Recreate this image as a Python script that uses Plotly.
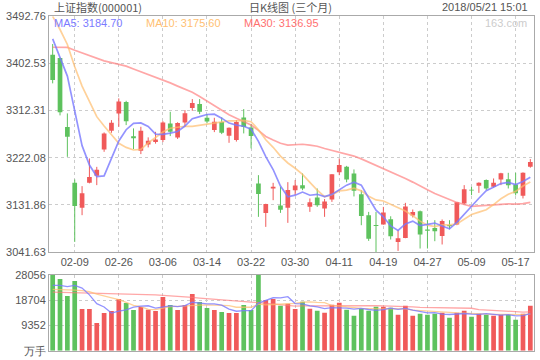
import plotly.graph_objects as go
import numpy as np

# ---------------- data ----------------
dates = ["02-06","02-07","02-08","02-09","02-12","02-13","02-14","02-22","02-23","02-26","02-27","02-28",
         "03-01","03-02","03-05","03-06","03-07","03-08","03-09","03-12","03-13","03-14","03-15","03-16",
         "03-19","03-20","03-21","03-22","03-23","03-26","03-27","03-28","03-29","03-30",
         "04-02","04-03","04-04","04-09","04-10","04-11","04-12","04-13","04-16","04-17","04-18","04-19",
         "04-20","04-23","04-24","04-25","04-26","04-27",
         "05-02","05-03","05-04","05-07","05-08","05-09","05-10","05-11","05-14","05-15","05-16","05-17",
         "05-18","05-21"]

open_ = [3419.4,3412.9,3280.7,3174.0,3126.1,3174.0,3187.4,3238.0,3273.6,3306.9,3328.6,3263.4,
         3235.3,3247.5,3252.0,3256.0,3287.8,3261.0,3289.7,3317.1,3324.8,3298.5,3274.9,3290.3,
         3264.0,3255.8,3299.3,3280.1,3172.9,3116.5,3163.0,3130.7,3126.1,3160.0,
         3169.6,3128.0,3146.0,3124.9,3142.2,3194.5,3204.6,3192.0,3152.4,3112.1,3093.5,3094.3,
         3104.4,3061.0,3068.6,3111.5,3119.8,3084.5,
         3087.8,3072.4,3093.5,3094.3,3134.5,3161.0,3168.3,3179.2,3166.3,3180.5,3181.1,3170.9,
         3149.1,3204.6]
high = [3439.7,3413.5,3306.9,3180.5,3167.7,3220.7,3204.6,3270.5,3294.1,3335.7,3331.0,3278.2,
        3281.3,3261.0,3271.7,3292.0,3310.0,3290.0,3313.3,3334.3,3334.3,3305.6,3298.5,3299.3,
        3280.0,3294.1,3315.2,3286.4,3188.7,3134.0,3174.0,3166.3,3175.3,3179.2,
        3192.0,3144.1,3163.2,3143.0,3190.6,3220.7,3206.5,3199.7,3160.0,3118.4,3118.4,3128.0,
        3110.0,3083.4,3135.7,3123.0,3121.0,3102.5,
        3102.5,3103.9,3102.5,3137.0,3169.6,3166.3,3175.0,3180.5,3182.4,3193.2,3193.2,3193.2,
        3194.0,3219.4]
low = [3364.4,3303.1,3223.8,3060.9,3112.1,3173.0,3169.6,3233.4,3269.8,3281.3,3284.5,3238.6,
       3229.0,3241.8,3249.0,3252.0,3263.5,3258.0,3281.3,3311.9,3305.6,3288.0,3271.1,3267.3,
       3250.6,3253.0,3268.6,3239.9,3108.9,3089.7,3140.8,3116.5,3097.4,3150.4,
       3160.0,3118.4,3128.0,3108.9,3137.6,3188.7,3175.0,3148.0,3092.9,3062.9,3041.63,3094.0,
       3065.5,3043.7,3068.0,3107.7,3048.3,3048.3,
       3062.3,3056.0,3085.0,3093.0,3133.0,3150.4,3154.8,3160.0,3165.0,3169.6,3163.2,3150.0,
       3144.1,3203.0]
close = [3370.65,3309.26,3262.05,3129.85,3154.13,3184.96,3199.16,3268.56,3289.02,3329.57,3292.07,3259.41,
         3273.75,3254.53,3256.93,3289.64,3271.67,3288.41,3307.17,3326.70,3310.24,3291.38,3291.11,3269.88,
         3279.25,3290.64,3280.95,3263.48,3152.76,3133.72,3166.65,3122.29,3160.53,3168.90,
         3163.18,3136.63,3131.11,3138.29,3190.32,3208.08,3180.16,3159.05,3110.65,3066.80,3091.40,3117.38,
         3071.54,3068.01,3128.93,3117.97,3075.03,3082.23,
         3081.18,3100.86,3091.03,3136.64,3161.50,3159.15,3174.41,3163.26,3174.03,3192.12,3169.57,3154.28,
         3193.30,3213.84]
# closes of the 29 sessions before the window (for the moving averages)
hist_close = [3306.12,3275.78,3296.38,3307.17,3348.33,3369.11,3385.71,3391.75,3409.48,3413.90,
              3421.83,3425.34,3428.94,3410.49,3436.59,3444.67,3474.75,3487.86,3501.36,3546.50,
              3559.47,3548.31,3558.13,3523.00,3488.01,3480.83,3446.98,3462.08,3487.50]

volume = [27950,26456,20180,25717,15381,15381,10213,13905,14643,19073,17596,15012,
          16120,15135,14643,19811,16858,15012,16858,20919,17965,15750,15012,14274,
          13905,13905,16858,15012,28056,18704,19073,16550,17290,15440,
          18088,15504,14766,14028,16981,17719,15135,12920,15504,14766,16243,16243,
          15873,13289,16612,12920,13659,13289,
          13659,14028,12182,14028,14766,12551,13659,13289,12920,13289,13289,11444,
          13659,16612]
# volume moving-average values at the start of the window
vol_ma5_head = [24118,24118,23626,24118]
vol_ma10_head = [22641,22641,22518,22395,22149,21780,20919,20180,19442]
vol_ma30_head = [21657,21595,21534,21472,21411,21349,21288,21165,21042,20980,20919,20857,
                 20795,20734,20611,20426,20303,20180,19934,19688,19442,19196,18950,18704,
                 18458,18211,18027,17904,17780]

price_ticks = [3041.63,3131.86,3222.08,3312.31,3402.53,3492.76]
vol_ticks = [0,9352,18704,28056]
vol_tick_text = ["万手","9352","18704","28056"]
x_ticks = ["02-09","02-26","03-06","03-14","03-22","03-30","04-11","04-19","04-27","05-09","05-17"]

ma_last = {"MA5": 3184.70, "MA10": 3175.60, "MA30": 3136.95}

# ---------------- derived ----------------
n = len(dates)
allc = hist_close + close
H = len(hist_close)
def price_ma(k):
    return [float(np.mean(allc[H + i - k + 1:H + i + 1])) for i in range(n)]
ma5, ma10, ma30 = price_ma(5), price_ma(10), price_ma(30)

def vol_ma(k, head):
    out = list(head)
    for i in range(len(head), n):
        out.append(float(np.mean(volume[i - k + 1:i + 1])))
    return out
vma5 = vol_ma(5, vol_ma5_head)
vma10 = vol_ma(10, vol_ma10_head)
vma30 = vol_ma(30, vol_ma30_head)

RED = "#F05A5A"
GREEN = "#5EC25E"
up = [c >= o for o, c in zip(open_, close)]
cols = [RED if u else GREEN for u in up]

C_MA5 = "rgba(120,120,255,0.8)"
C_MA10 = "rgba(255,190,110,0.7)"
C_MA30 = "rgba(255,120,120,0.65)"

fig = go.Figure()

# wicks
for colr, flag in ((RED, True), (GREEN, False)):
    wx, wy = [], []
    for i in range(n):
        if up[i] == flag:
            wx += [dates[i], dates[i], None]
            wy += [low[i], high[i], None]
    fig.add_trace(go.Scatter(x=wx, y=wy, mode="lines", line=dict(color=colr, width=1),
                             hoverinfo="skip", showlegend=False, xaxis="x", yaxis="y"))
# bodies
body = [max(abs(c - o), 1.6) for o, c in zip(open_, close)]
base = [min(o, c) for o, c in zip(open_, close)]
fig.add_trace(go.Bar(x=dates, y=body, base=base, width=0.64, marker=dict(color=cols, line=dict(width=0)),
                     showlegend=False, xaxis="x", yaxis="y"))
# price MAs
for vals, c in ((ma30, C_MA30), (ma10, C_MA10), (ma5, C_MA5)):
    fig.add_trace(go.Scatter(x=dates, y=vals, mode="lines", line=dict(color=c, width=1.7),
                             showlegend=False, xaxis="x", yaxis="y", cliponaxis=True))

# volume
fig.add_trace(go.Bar(x=dates, y=volume, width=0.64, marker=dict(color=cols, line=dict(width=0)),
                     showlegend=False, xaxis="x2", yaxis="y2"))
for vals, c in ((vma30, C_MA30), (vma10, C_MA10), (vma5, C_MA5)):
    fig.add_trace(go.Scatter(x=dates, y=vals, mode="lines", line=dict(color=c, width=1.3),
                             showlegend=False, xaxis="x2", yaxis="y2"))

W, Hh = 540, 360
L, R = 49, 6
def px(x):
    return (x - L) / (W - L - R)
def py(y):
    return 1 - y / Hh

FONT = "Liberation Sans, Arial, sans-serif"
CJK = "Noto Sans CJK SC, Liberation Sans, sans-serif"
grid = dict(showgrid=True, gridcolor="#cccccc", griddash="3px,3px", gridwidth=1,
            showline=True, mirror=True, linecolor="#aaaaaa", linewidth=1, zeroline=False,
            ticks="", fixedrange=True, automargin=False)

fig.update_layout(
    width=W, height=Hh, autosize=False,
    margin=dict(l=L, r=R, t=0, b=0, pad=0, autoexpand=False),
    paper_bgcolor="white", plot_bgcolor="white",
    showlegend=False, barmode="overlay", hovermode=False,
    xaxis=dict(domain=[0, 1], anchor="y", type="category", categoryorder="array", categoryarray=dates,
               range=[-0.5, n - 0.5], tickvals=x_ticks, ticktext=x_ticks,
               tickfont=dict(family=FONT, size=11, color="#555555"), **grid),
    yaxis=dict(domain=[py(252), py(16.3)], anchor="x", range=[price_ticks[0], price_ticks[-1]],
               tickvals=price_ticks, ticktext=["%.2f" % v for v in price_ticks],
               tickfont=dict(family=FONT, size=11, color="#555555"), **grid),
    xaxis2=dict(domain=[0, 1], anchor="y2", type="category", categoryorder="array", categoryarray=dates,
                range=[-0.5, n - 0.5], tickvals=x_ticks, showticklabels=False, matches="x", **grid),
    yaxis2=dict(domain=[py(350.7), py(274.7)], anchor="x2", range=[0, vol_ticks[-1]],
                tickvals=vol_ticks, ticktext=vol_tick_text,
                tickfont=dict(family=FONT, size=11, color="#555555"), **grid),
)

ann = [
    dict(text="上证指数(000001)", x=px(51.5), y=py(6.5), xanchor="left", font=dict(family=CJK, size=11, color="#555555")),
    dict(text="日K线图 (三个月)", x=px(290), y=py(6.5), xanchor="center", font=dict(family=CJK, size=11, color="#555555")),
    dict(text="2018/05/21 15:01", x=px(530), y=py(6.5), xanchor="right", font=dict(family=FONT, size=11, color="#555555")),
    dict(text="MA5: %.2f" % ma_last["MA5"], x=px(51.5), y=py(23), xanchor="left", font=dict(family=FONT, size=11, color="#7b7bff")),
    dict(text="MA10: %.2f" % ma_last["MA10"], x=px(144), y=py(23), xanchor="left", font=dict(family=FONT, size=11, color="#ffbf73")),
    dict(text="MA30: %.2f" % ma_last["MA30"], x=px(241.5), y=py(23), xanchor="left", font=dict(family=FONT, size=11, color="#ff7070")),
    dict(text="163.com", x=px(529), y=py(23), xanchor="right", font=dict(family=FONT, size=11, color="#cccccc")),
]
for a in ann:
    a.update(xref="paper", yref="paper", yanchor="middle", showarrow=False)
fig.update_layout(annotations=ann)

fig.write_html("out.html", config={"displayModeBar": False, "staticPlot": True},
               post_script="document.body.style.margin='0';document.body.style.overflow='hidden';")
